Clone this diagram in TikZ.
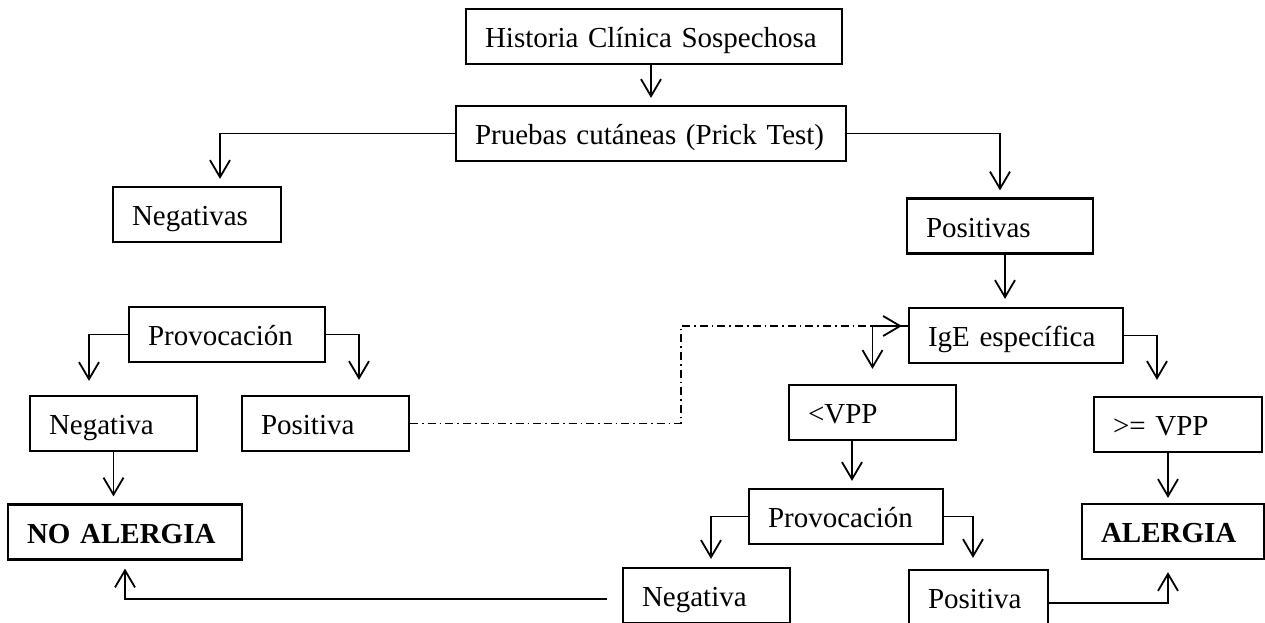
\documentclass[tikz,border=0pt]{standalone}
\usepackage{fontspec}
\setmainfont{Liberation Serif}
\usetikzlibrary{arrows.meta}

\tikzset{
  caja/.style={draw, line width=1.1pt, align=left, text width=#1,
    minimum height=27.5pt, inner xsep=9.5pt, inner ysep=0pt,
    text height=14pt, text depth=3pt},
  negrita/.style={font=\fontsize{14.5}{17}\selectfont\bfseries},
  flecha/.style={->, line width=0.9pt, shorten >=3.5pt},
  discont/.style={->, line width=0.9pt, dash pattern=on 4pt off 2pt on 0.8pt off 2pt, shorten >=3pt}
}

\begin{document}
\begin{tikzpicture}[x=0.5pt, y=-0.5pt, font=\fontsize{14.5}{17}\selectfont,
  >={Straight Barb[length=8.5pt,width=10pt]}]

\useasboundingbox (0,0) rectangle (1265,622);

% cajas
\node[caja=169pt] (hist) at (654,36.5) {Historia Clínica Sospechosa};
\node[caja=176pt] (prueb) at (651,133.5) {Pruebas cutáneas (Prick Test)};
\node[caja=65pt] (neg) at (197,214.5) {Negativas};
\node[caja=74pt] (pos) at (1000,226) {Positivas};
\node[caja=88pt] (ige) at (1016,335.5) {IgE específica};

\node[caja=79pt] (provA) at (227,334.5) {Provocación};
\node[caja=64.5pt] (negA) at (113.5,423.5) {Negativa};
\node[caja=64.5pt] (posA) at (325.5,423.5) {Positiva};
\node[caja=98pt, negrita] (noal) at (125,532) {NO ALERGIA};

\node[caja=64.5pt] (menor) at (872.5,412.5) {<VPP};
\node[caja=65pt] (mayor) at (1178,424.5) {>= VPP};
\node[caja=72pt, negrita] (aler) at (1173,531.5) {ALERGIA};
\node[caja=78pt] (provB) at (846,516.5) {Provocación};
\node[caja=64.5pt] (negB) at (706.5,595.5) {Negativa};
\node[caja=50.5pt] (posB) at (978.5,597.5) {Positiva};

% flechas
\draw[flecha] (prueb.north |- hist.south) -- (prueb.north);
\draw[flecha] (prueb.west) -| ([xshift=11.5pt]neg.north);
\draw[flecha] (prueb.east) -| (pos.north);
\draw[flecha, shorten >=4pt] ([xshift=2.5pt]pos.south) -- ([xshift=2.5pt]pos.south |- ige.north);

\draw[flecha, shorten >=7pt] (provA.west) -| ([xshift=-12.25pt]negA.north);
\draw[flecha, shorten >=7.5pt] (provA.east) -| ([xshift=16.75pt]posA.north);
\draw[flecha] (negA.south) -- (negA.south |- noal.north);

\coordinate (quiebre) at (681,326);
\draw[discont] (posA.east) -| (quiebre) -- ([yshift=4.75pt]ige.west);

\draw[flecha, shorten >=7.5pt] ([yshift=4.75pt]ige.west) -| (menor.north);
\draw[flecha, shorten >=8pt] (ige.east) -| ([xshift=-10.5pt]mayor.north);
\draw[flecha, shorten >=2.5pt] ([xshift=-5pt]mayor.south) -- ([xshift=-5pt]mayor.south |- aler.north);
\draw[flecha] ([xshift=-10.25pt]menor.south) -- ([xshift=-10.25pt]menor.south |- provB.north);

\draw[flecha, shorten >=4pt] (provB.west) -| ([xshift=2.25pt]negB.north);
\draw[flecha, shorten >=5.5pt] (provB.east) -| ([xshift=-2.75pt]posB.north);
\draw[flecha, shorten <=7.5pt, shorten >=4pt] ([yshift=-1.75pt]negB.west) -| (noal.south);
\draw[flecha, shorten >=6pt] ([yshift=-2.75pt]posB.east) -| ([xshift=-2.5pt]aler.south);

\end{tikzpicture}
\end{document}
